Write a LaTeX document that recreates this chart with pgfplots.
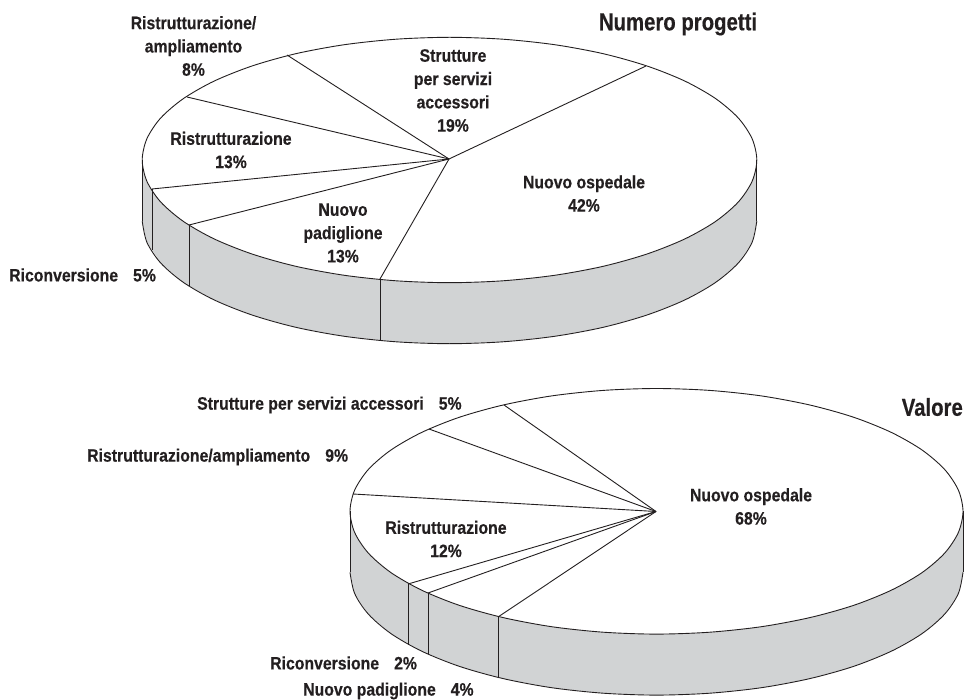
\documentclass[border=0pt]{standalone}
\usepackage{fontspec}
\setmainfont{Liberation Sans}[FakeStretch=0.878,BoldFeatures={FakeBold=0.35}]
\newfontfamily\ttlfont{Liberation Sans}[FakeStretch=0.83,BoldFeatures={FakeBold=0.35}]
\usepackage{pgfplots}
\pgfplotsset{compat=1.18}
\definecolor{ink}{HTML}{231F20}
\definecolor{side}{HTML}{D1D3D4}
\tikzset{
  lab/.style={font=\bfseries\fontsize{18}{23.3}\selectfont, text=ink, inner sep=0pt, align=center},
  ttl/.style={font=\ttlfont\bfseries\fontsize{24.5}{28}\selectfont, text=ink, inner sep=0pt, align=center},
}
\begin{document}
\begin{tikzpicture}
\path[use as bounding box] (0,0) rectangle (965pt,700pt);
\begin{axis}[
  scale only axis, width=965pt, height=700pt,
  xmin=0, xmax=965, ymin=0, ymax=700, y dir=reverse,
  hide axis, clip=false,
  cycle list={{ink,solid}},
  every axis plot/.append style={line width=0.9pt, draw=ink, solid, no markers, line join=round},
]
% ---------- Numero progetti ----------
\addplot[draw=none, fill=side] coordinates {(142.2,160)(142.2,221)(146.9,242.3)(160.7,263)(183.4,282.4)(214.1,299.9)(252,315)(295.8,327.3)(344.4,336.3)(396.2,341.8)(449.5,343.7)(502.8,341.8)(554.6,336.3)(603.2,327.3)(647,315)(684.9,299.9)(715.6,282.4)(738.3,263)(752.1,242.3)(756.8,221)(756.8,160)} -- cycle;
\addplot[smooth cycle, fill=white] coordinates {(756.8,160)(752.1,138.7)(738.3,118)(715.6,98.6)(684.9,81.1)(647,66)(603.2,53.7)(554.6,44.7)(502.8,39.2)(449.5,37.3)(396.2,39.2)(344.4,44.7)(295.8,53.7)(252,66)(214.1,81.1)(183.4,98.6)(160.7,118)(146.9,138.7)(142.2,160)(146.9,181.3)(160.7,202)(183.4,221.4)(214.1,238.9)(252,254)(295.8,266.3)(344.4,275.3)(396.2,280.8)(449.5,282.7)(502.8,280.8)(554.6,275.3)(603.2,266.3)(647,254)(684.9,238.9)(715.6,221.4)(738.3,202)(752.1,181.3)};
\addplot[smooth] coordinates {(142.2,221)(146.9,242.3)(160.7,263)(183.4,282.4)(214.1,299.9)(252,315)(295.8,327.3)(344.4,336.3)(396.2,341.8)(449.5,343.7)(502.8,341.8)(554.6,336.3)(603.2,327.3)(647,315)(684.9,299.9)(715.6,282.4)(738.3,263)(752.1,242.3)(756.8,221)};
\addplot coordinates {(142.2,160)(142.2,221)};
\addplot coordinates {(756.8,160)(756.8,221)};
\addplot coordinates {(449,159)(646,66)};
\addplot coordinates {(449,159)(287,55)};
\addplot coordinates {(449,159)(187,97)};
\addplot coordinates {(449,159)(152,189)};
\addplot coordinates {(449,159)(189,225)};
\addplot coordinates {(449,159)(380,279)};
\addplot coordinates {(152,189)(152,250)};
\addplot coordinates {(189,225)(189,286)};
\addplot coordinates {(380,279)(380,340)};
\node[lab] at (axis cs:193.5,46) {Ristrutturazione/\\ampliamento\\8\%};
\node[lab] at (axis cs:453,90.5) {Strutture\\per servizi\\accessori\\19\%};
\node[lab] at (axis cs:231,150) {Ristrutturazione\\13\%};
\node[lab] at (axis cs:343,233) {Nuovo\\padiglione\\13\%};
\node[lab] at (axis cs:584,193.5) {Nuovo ospedale\\42\%};
\node[lab, anchor=west] at (axis cs:9,275) {Riconversione\hspace{15pt}5\%};
\node[ttl] at (axis cs:678,24) {Numero progetti};
% ---------- Valore ----------
\addplot[draw=none, fill=side] coordinates {(350,511.3)(350,572.3)(354.7,593.6)(368.5,614.3)(391.1,633.7)(421.7,651.2)(459.5,666.4)(503.2,678.6)(551.7,687.7)(603.3,693.2)(656.5,695.1)(709.7,693.2)(761.3,687.7)(809.8,678.6)(853.5,666.4)(891.3,651.2)(921.9,633.7)(944.5,614.3)(958.3,593.6)(963,572.3)(963,511.3)} -- cycle;
\addplot[smooth cycle, fill=white] coordinates {(963,511.3)(958.3,490)(944.5,469.3)(921.9,449.9)(891.3,432.4)(853.5,417.2)(809.8,405)(761.3,395.9)(709.7,390.4)(656.5,388.5)(603.3,390.4)(551.7,395.9)(503.2,405)(459.5,417.2)(421.7,432.4)(391.1,449.9)(368.5,469.3)(354.7,490)(350,511.3)(354.7,532.6)(368.5,553.3)(391.1,572.7)(421.7,590.2)(459.5,605.4)(503.2,617.6)(551.7,626.7)(603.3,632.2)(656.5,634.1)(709.7,632.2)(761.3,626.7)(809.8,617.6)(853.5,605.4)(891.3,590.2)(921.9,572.7)(944.5,553.3)(958.3,532.6)};
\addplot[smooth] coordinates {(350,572.3)(354.7,593.6)(368.5,614.3)(391.1,633.7)(421.7,651.2)(459.5,666.4)(503.2,678.6)(551.7,687.7)(603.3,693.2)(656.5,695.1)(709.7,693.2)(761.3,687.7)(809.8,678.6)(853.5,666.4)(891.3,651.2)(921.9,633.7)(944.5,614.3)(958.3,593.6)(963,572.3)};
\addplot coordinates {(350,511.3)(350,572.3)};
\addplot coordinates {(963,511.3)(963,572.3)};
\addplot coordinates {(656,511.5)(504,405)};
\addplot coordinates {(656,511.5)(429,429)};
\addplot coordinates {(656,511.5)(353,494)};
\addplot coordinates {(656,511.5)(408,584)};
\addplot coordinates {(656,511.5)(428,593)};
\addplot coordinates {(656,511.5)(498,617)};
\addplot coordinates {(408,584)(408,645)};
\addplot coordinates {(428,593)(428,654)};
\addplot coordinates {(498,617)(498,678)};
\node[lab, anchor=west] at (axis cs:197,405) {Strutture per servizi accessori\hspace{15pt}5\%};
\node[lab, anchor=west] at (axis cs:87,457) {Ristrutturazione/ampliamento\hspace{15pt}9\%};
\node[lab] at (axis cs:446,539) {Ristrutturazione\\12\%};
\node[lab] at (axis cs:751,506.5) {Nuovo ospedale\\68\%};
\node[lab, anchor=west] at (axis cs:270,663) {Riconversione\hspace{15pt}2\%};
\node[lab, anchor=west] at (axis cs:303,691) {Nuovo padiglione\hspace{15pt}4\%};
\node[ttl, anchor=east] at (axis cs:963,407) {Valore};
\end{axis}
\end{tikzpicture}
\end{document}
